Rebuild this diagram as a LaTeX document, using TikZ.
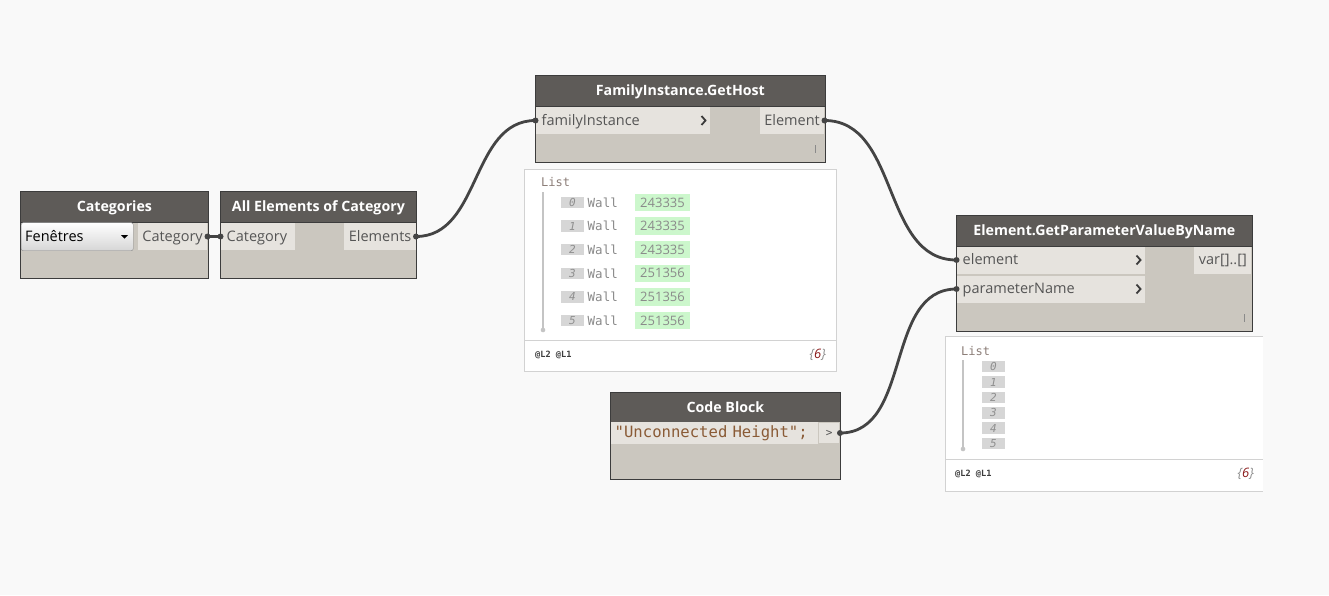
\documentclass[tikz,border=0pt]{standalone}
\usepackage{fontspec}
\setmainfont{Open Sans}
\setmonofont{DejaVu Sans Mono}
\usetikzlibrary{positioning}

\definecolor{canvas}{HTML}{F9F9F9}
\definecolor{headgrey}{HTML}{5E5B58}
\definecolor{bodygrey}{HTML}{CBC7BF}
\definecolor{portgrey}{HTML}{E6E3DE}
\definecolor{rimgrey}{HTML}{3C3C3C}
\definecolor{wiregrey}{HTML}{444444}
\definecolor{porttxt}{HTML}{555555}
\definecolor{viewgrey}{HTML}{D2D2D2}
\definecolor{stemgrey}{HTML}{C4C4C4}
\definecolor{idxgrey}{HTML}{D6D6D6}
\definecolor{idxtxt}{HTML}{8F8F8F}
\definecolor{hitgreen}{HTML}{CCF7CC}
\definecolor{listtxt}{HTML}{8C7E78}
\definecolor{walltxt}{HTML}{8A8A8A}
\definecolor{strbrown}{HTML}{8A5B36}
\definecolor{countred}{HTML}{8B1A1A}

\newcommand\dynfont{\fontsize{14.5}{17}\selectfont}
\newcommand\dynheadfont{\fontsize{14.2}{17}\selectfont\bfseries}
\newcommand\codefont{\ttfamily\fontsize{15.6}{18}\selectfont\fontdimen2\font=9.39pt\fontdimen3\font=0pt\fontdimen4\font=0pt}

\begin{document}
\begin{tikzpicture}[x=1pt,y=-1pt]
\tikzstyle{every node}+=[inner sep=0pt]
\tikzstyle{dynbox}=[draw=rimgrey, line width=0.8pt, fill=bodygrey, anchor=north west]
\tikzstyle{dynhead}=[draw=rimgrey, line width=0.8pt, fill=headgrey, text=white, anchor=north west, font=\dynheadfont, text height=11pt, text depth=1.5pt]
\tikzstyle{portin}=[fill=portgrey, anchor=west, minimum height=27pt, inner xsep=6pt, align=left, text=porttxt, font=\dynfont, text height=11pt, text depth=2pt]
\tikzstyle{portout}=[fill=portgrey, anchor=east, minimum height=27pt, inner xsep=4.5pt, text=porttxt, font=\dynfont, text height=11pt, text depth=2pt]
\tikzstyle{chevron}=[draw=rimgrey, line width=1.8pt]
\tikzstyle{lacing}=[draw=walltxt, line width=0.8pt]
\tikzstyle{wire}=[draw=wiregrey, line width=2.8pt]
\tikzstyle{viewbox}=[fill=white, anchor=north west]
\tikzstyle{viewrim}=[draw=viewgrey, line width=1pt]
\tikzstyle{idxbox}=[fill=idxgrey, minimum width=23pt, minimum height=11.5pt, text=idxtxt, font=\ttfamily\itshape\fontsize{11}{12}\selectfont, text height=8pt, text depth=0pt]
\tikzstyle{hitbox}=[fill=hitgreen, minimum width=55pt, minimum height=17.5pt, text=walltxt, font=\fontsize{13}{15}\selectfont]
\tikzstyle{wallword}=[anchor=west, text=walltxt, font=\ttfamily\fontsize{12.5}{14}\selectfont]
\tikzstyle{listword}=[anchor=west, text=listtxt, font=\ttfamily\fontsize{12}{14}\selectfont]
\tikzstyle{lacetag}=[anchor=west, text=rimgrey, font=\ttfamily\bfseries\fontsize{8.6}{10}\selectfont]
\tikzstyle{counttag}=[anchor=east, text=walltxt, font=\fontsize{13}{15}\selectfont\itshape]

% canvas
\fill[canvas] (0,0) rectangle (1329,595);
\useasboundingbox (0,0) rectangle (1329,595);

% Categories
\node[dynbox, minimum width=188pt, minimum height=87pt] (categories) at (20,191) {};
\node[dynhead, minimum width=188pt, minimum height=31pt] (catHead) at (20,191) {Categories};
\node[anchor=north west, draw=walltxt, rounded corners=2pt, top color=white, bottom color=idxgrey,
  minimum width=112pt, minimum height=28pt, text width=104pt, inner xsep=4pt, font=\dynfont,
  text height=11pt, text depth=2pt] (catDrop) at (21,222.5) {Fenêtres};
\fill[black] (121,235) -- (128,235) -- (124.5,238.5) -- cycle;
\node[portout] (catOut) at (207.5,236.5) {Category};

% All Elements of Category
\node[dynbox, minimum width=196pt, minimum height=87pt] (allElems) at (220,191) {};
\node[dynhead, minimum width=196pt, minimum height=31pt] (allHead) at (220,191) {All Elements of Category};
\node[portin, text width=62pt] (allIn) at (220.5,236.5) {Category};
\node[portout] (allOut) at (416,236.5) {Elements};

% FamilyInstance.GetHost
\node[dynbox, minimum width=290pt, minimum height=87pt] (getHost) at (535,75) {};
\node[dynhead, minimum width=290pt, minimum height=31pt] (hostHead) at (535,75) {FamilyInstance.GetHost};
\node[portin, text width=162pt] (hostIn) at (535.5,120.5) {familyInstance};
\draw[chevron] (701.5,116) -- (705.5,120.5) -- (701.5,125);
\node[portout] (hostOut) at (824.5,120.5) {Element};
\draw[lacing] (815.5,145) -- (815.5,153);

% preview of GetHost
\node[viewbox, minimum width=312pt, minimum height=202pt] (hostView) at (524,169) {};
\draw[viewrim] (524,169) rectangle (836,371);
\draw[viewrim] (524,340) -- (836,340);
\node[listword] (hostList) at (541,182.5) {List};
\draw[stemgrey, line width=1.2pt] (543,192) -- (543,330);
\fill[stemgrey] (543,330) circle (2.3pt);
\foreach \i/\v in {0/243335,1/243335,2/243335,3/251356,4/251356,5/251356}{
  \node[idxbox] (hostIdx\i) at (572.5,202.5+23.6*\i) {\i};
  \node[wallword] (hostWall\i) at (587.5,202.5+23.6*\i) {Wall};
  \node[hitbox] (hostVal\i) at (662.5,202.5+23.6*\i) {\v};
}
\node[lacetag] (hostLace) at (535,355) {@L2 @L1};
\node[counttag] (hostCount) at (826,355) {\{\textcolor{countred}{6}\}};

% Element.GetParameterValueByName
\node[dynbox, minimum width=296pt, minimum height=116pt] (getParam) at (956,215) {};
\node[dynhead, minimum width=296pt, minimum height=31pt] (paramHead) at (956,215) {Element.GetParameterValueByName};
\node[portin, text width=176pt] (paramElem) at (956.5,260) {element};
\node[portin, text width=176pt] (paramName) at (956.5,289) {parameterName};
\draw[chevron] (1136.5,255.5) -- (1140.5,260) -- (1136.5,264.5);
\draw[chevron] (1136.5,284.5) -- (1140.5,289) -- (1136.5,293.5);
\node[portout] (paramOut) at (1251.5,260) {var[]..[]};
\draw[lacing] (1244.5,314) -- (1244.5,322);

% preview of GetParameterValueByName
\node[viewbox, minimum width=318pt, minimum height=155.5pt] (paramView) at (945,336) {};
\draw[viewrim] (1263,336) -- (945,336) -- (945,491.5) -- (1263,491.5);
\draw[viewrim] (945,459.5) -- (1263,459.5);
\node[listword] (paramList) at (961,351) {List};
\draw[stemgrey, line width=1.2pt] (963,360) -- (963,449);
\fill[stemgrey] (963,449) circle (2.3pt);
\foreach \i in {0,...,5}{
  \node[idxbox] (paramIdx\i) at (993.5,366.7+15.36*\i) {\i};
}
\node[lacetag] (paramLace) at (955,474) {@L2 @L1};
\node[counttag] (paramCount) at (1254,474) {\{\textcolor{countred}{6}\}};

% Code Block
\node[dynbox, minimum width=230pt, minimum height=87pt] (codeBlock) at (610,392) {};
\node[dynhead, minimum width=230pt, minimum height=30pt] (codeHead) at (610,392) {Code Block};
\node[anchor=west, fill=portgrey, minimum height=21.5pt, text width=200pt, inner xsep=4pt,
  text=strbrown, font=\codefont, text height=10.5pt, text depth=2.5pt] (codeText) at (610.5,433) {"Unconnected Height";};
\node[anchor=east, fill=portgrey, draw=bodygrey, line width=0.6pt, minimum width=21pt, minimum height=21.5pt,
  text=porttxt, font=\ttfamily\fontsize{11}{12}\selectfont] (codeOut) at (840,433) {>};

% wires
\draw[wire] (catOut.east) -- (allIn.west);
\draw[wire] (allOut.east) to[out=0,in=180] (hostIn.west);
\draw[wire] (hostOut.east) to[out=0,in=180] (paramElem.west);
\draw[wire] (codeOut.east) to[out=0,in=180] (paramName.west);
\foreach \p in {catOut.east,allIn.west,allOut.east,hostIn.west,hostOut.east,paramElem.west,codeOut.east,paramName.west}
  \fill[wiregrey] (\p) circle (3pt);
\end{tikzpicture}
\end{document}
